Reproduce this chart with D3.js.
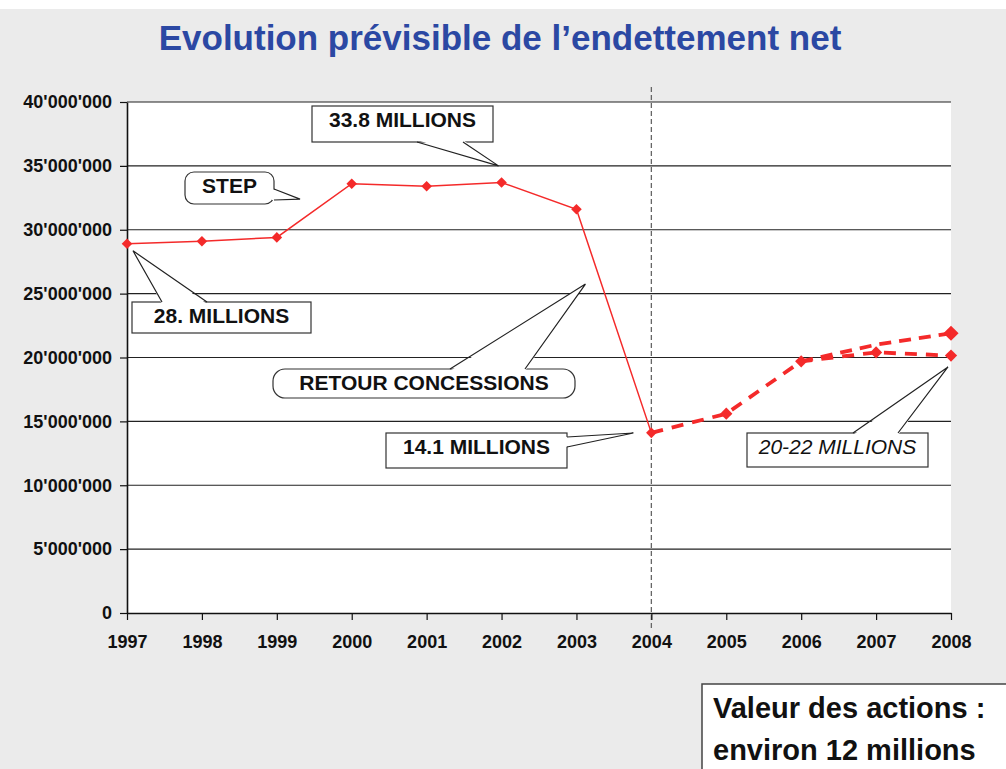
<!DOCTYPE html>
<html>
<head>
<meta charset="utf-8">
<script src="https://cdn.jsdelivr.net/npm/d3@7"></script>
<style>
  body { margin: 0; background: #ebebeb; }
  svg { display: block; font-family: "Liberation Sans", Arial, sans-serif; }
</style>
</head>
<body>
<script>
// data, in millions
const years = [1997, 1998, 1999, 2000, 2001, 2002, 2003, 2004, 2005, 2006, 2007, 2008]
const yTicks = [0, 5, 10, 15, 20, 25, 30, 35, 40]

const actualYears = [1997, 1998, 1999, 2000, 2001, 2002, 2003, 2004]
const actualValues = [28.9, 29.1, 29.4, 33.6, 33.4, 33.7, 31.6, 14.1]

const lowYears = [2004, 2005, 2006, 2007, 2008]
const lowValues = [14.1, 15.6, 19.7, 20.4, 20.15]

const highYears = [2006, 2007, 2008]
const highValues = [19.7, 21.0, 21.9]

const width = 1006
const height = 769
const red = '#f42a2a'

const svg = d3.select('body').append('svg').attr('width', width).attr('height', height)

svg.append('rect').attr('width', width).attr('height', height).attr('fill', '#ebebeb')
svg.append('rect').attr('width', width).attr('height', 9).attr('fill', '#fff')

const x = d3.scaleLinear().domain([1997, 2008]).range([127, 951])
const y = d3.scaleLinear().domain([0, 40]).range([613, 102])

// white plot area
svg.append('rect')
  .attr('x', x(1997)).attr('y', y(40))
  .attr('width', x(2008) - x(1997)).attr('height', y(0) - y(40))
  .attr('fill', '#fff')

svg.append('text')
  .attr('x', 500).attr('y', 50)
  .attr('text-anchor', 'middle')
  .attr('font-size', 35).attr('font-weight', 'bold')
  .attr('fill', '#2b48a3')
  .text('Evolution prévisible de l’endettement net')

// gridlines
svg.append('g').selectAll('line')
  .data(yTicks.filter(d => d > 0))
  .enter().append('line')
  .attr('x1', x(1997)).attr('x2', x(2008))
  .attr('y1', d => y(d)).attr('y2', d => y(d))
  .attr('stroke', '#222').attr('stroke-width', 1.2)

// vertical dashed separator at 2004
svg.append('line')
  .attr('x1', x(2004)).attr('x2', x(2004))
  .attr('y1', 87).attr('y2', y(0) + 16)
  .attr('stroke', '#666').attr('stroke-width', 1.3)
  .attr('stroke-dasharray', '5,3')

const fmt = d => d === 0 ? '0' : d3.format(',')(d * 1e6).replace(/,/g, "'")

svg.append('g')
  .attr('transform', `translate(${x(1997)},0)`)
  .call(d3.axisLeft(y).tickValues(yTicks).tickSize(7).tickSizeOuter(0).tickPadding(8).tickFormat(fmt))

svg.append('g')
  .attr('transform', `translate(0,${y(0)})`)
  .call(d3.axisBottom(x).tickValues(years).tickSize(7).tickSizeOuter(0).tickPadding(15).tickFormat(d => d))

svg.selectAll('.domain').attr('stroke', '#111').attr('stroke-width', 1.6)
svg.selectAll('.tick line').attr('stroke', '#111').attr('stroke-width', 1.2)
svg.selectAll('.tick text')
  .attr('font-family', '"Liberation Sans", Arial, sans-serif')
  .attr('font-size', 18).attr('font-weight', 'bold').attr('fill', '#111')

const line = d3.line().x(d => x(d[0])).y(d => y(d[1]))
const actual = actualYears.map((d, i) => [d, actualValues[i]])
const low = lowYears.map((d, i) => [d, lowValues[i]])
const high = highYears.map((d, i) => [d, highValues[i]])

svg.append('path').datum(high)
  .attr('d', line).attr('fill', 'none')
  .attr('stroke', red).attr('stroke-width', 3.8).attr('stroke-dasharray', '12,8')

svg.append('path').datum(low)
  .attr('d', line).attr('fill', 'none')
  .attr('stroke', red).attr('stroke-width', 3.8).attr('stroke-dasharray', '12,9')

svg.append('path').datum(actual)
  .attr('d', line).attr('fill', 'none')
  .attr('stroke', red).attr('stroke-width', 1.5)

const diamond = (a) => d3.symbol(d3.symbolSquare, a)()

function markers(points, area) {
  svg.append('g').selectAll('path')
    .data(points)
    .enter().append('path')
    .attr('d', diamond(area))
    .attr('transform', d => `translate(${x(d[0])},${y(d[1])}) rotate(45)`)
    .attr('fill', red)
}
markers(actual, 56)
markers(low.slice(1), 75)
markers(high.slice(2), 115)

// callouts: box, wedge base on one edge, tip in data units
const callouts = [
  { text: '33.8 MILLIONS', box: [312, 106, 493, 142], r: 0, base: [[417, 142], [463, 142]], inset: [0, -2], tip: [2001.96, 35.0], ty: 127 },
  { text: 'STEP', box: [185, 172, 274, 204], r: 9, base: [[274, 189], [274, 200]], inset: [-2, 0], tip: [1999.31, 32.4], ty: 193 },
  { text: '28. MILLIONS', box: [132, 302, 311, 333], r: 0, base: [[162, 302], [207, 302]], inset: [0, 2], tip: [1997.08, 28.35], ty: 323 },
  { text: 'RETOUR CONCESSIONS', box: [273, 369, 575, 398], r: 12, base: [[450, 369], [525, 369]], inset: [0, 2], tip: [2003.12, 25.75], ty: 390 },
  { text: '14.1 MILLIONS', box: [386, 433, 567, 468], r: 0, base: [[567, 437], [567, 447]], inset: [-2, 0], tip: [2003.76, 14.09], ty: 454 },
  { text: '20-22 MILLIONS', box: [747, 433, 928, 467], r: 0, base: [[853, 433], [898, 433]], inset: [0, 2], tip: [2007.96, 19.26], ty: 454, italic: true }
]

callouts.forEach(c => {
  const g = svg.append('g')
  const [x0, y0, x1, y1] = c.box
  const tip = [x(c.tip[0]), y(c.tip[1])]
  g.append('rect')
    .attr('x', x0).attr('y', y0).attr('width', x1 - x0).attr('height', y1 - y0)
    .attr('rx', c.r).attr('fill', '#fff').attr('stroke', '#333').attr('stroke-width', 1.2)
  const b1 = c.base[0], b2 = c.base[1]
  g.append('path')
    .attr('d', `M${b1[0] + c.inset[0]},${b1[1] + c.inset[1]}L${tip[0]},${tip[1]}L${b2[0] + c.inset[0]},${b2[1] + c.inset[1]}Z`)
    .attr('fill', '#fff')
  g.append('path')
    .attr('d', `M${b1[0]},${b1[1]}L${tip[0]},${tip[1]}L${b2[0]},${b2[1]}`)
    .attr('fill', 'none').attr('stroke', '#222').attr('stroke-width', 1.2)
  g.append('text')
    .attr('x', (x0 + x1) / 2).attr('y', c.ty)
    .attr('text-anchor', 'middle')
    .attr('font-size', 21)
    .attr('font-weight', c.italic ? 'normal' : 'bold')
    .attr('font-style', c.italic ? 'italic' : 'normal')
    .attr('fill', '#111')
    .text(c.text)
})

// share value box
svg.append('rect')
  .attr('x', 702).attr('y', 684).attr('width', 320).attr('height', 100)
  .attr('fill', '#fff').attr('stroke', '#444').attr('stroke-width', 1.5)

svg.append('text')
  .attr('x', 713).attr('y', 718)
  .attr('font-size', 29).attr('font-weight', 'bold').attr('fill', '#111')
  .text('Valeur des actions :')
svg.append('text')
  .attr('x', 713).attr('y', 760)
  .attr('font-size', 29).attr('font-weight', 'bold').attr('fill', '#111')
  .text('environ 12 millions')
</script>
</body>
</html>
